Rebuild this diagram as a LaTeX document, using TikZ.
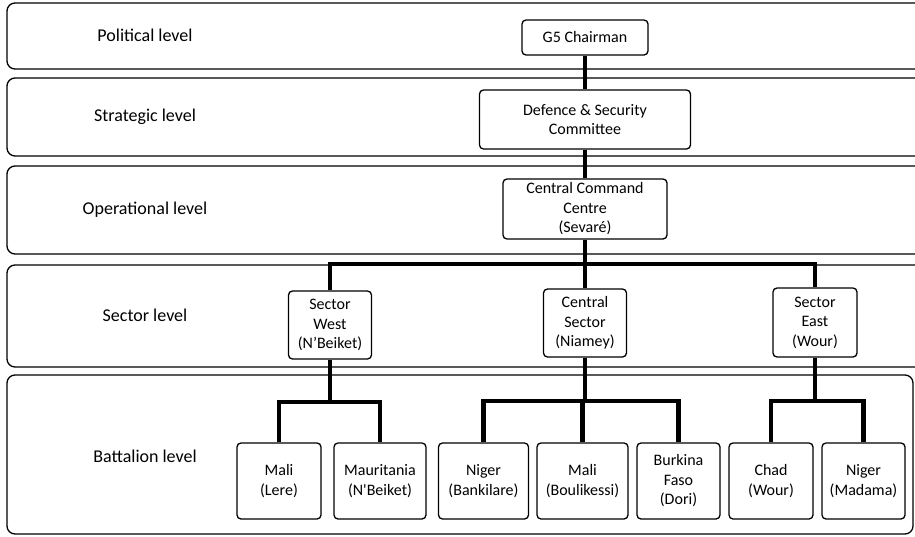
\documentclass[tikz,border=0pt]{standalone}
\usepackage{fontspec}
\setmainfont{Carlito}
\begin{document}
\begin{tikzpicture}[x=1pt,y=-1pt,
  band/.style={draw, line width=1.3pt, rounded corners=8pt},
  lvl/.style={font=\fontsize{18}{22}\selectfont},
  box/.style={draw, fill=white, line width=1.3pt, rounded corners=4pt, align=center,
              font=\fontsize{16}{19.5}\selectfont, inner sep=0pt},
  conn/.style={line width=4.5pt}]
\useasboundingbox (0,0) rectangle (915,536);
\clip (0,0) rectangle (915,536);
% level bands
\draw[band] (7,3) rectangle (940,69);
\draw[band] (7,78) rectangle (940,156);
\draw[band] (7,166) rectangle (940,254);
\draw[band] (7,265) rectangle (940,367);
\draw[band] (7,375) rectangle (913,534);
% level labels
\node[lvl] (lpol) at (145,35) {Political level};
\node[lvl] (lstr) at (145,117) {Strategic level};
\node[lvl] (lope) at (145,210) {Operational level};
\node[lvl] (lsec) at (145,315) {Sector level};
\node[lvl] (lbat) at (145,456) {Battalion level};
% boxes
\node[box, minimum width=126pt, minimum height=35pt] (g5) at (585,37.5) {G5 Chairman};
\node[box, minimum width=211pt, minimum height=59pt] (dsc) at (585,119.5) {Defence \& Security\\Committee};
\node[box, minimum width=164pt, minimum height=60pt] (ccc) at (585,209) {Central Command\\Centre\\(Sevaré)};
\node[box, minimum width=83pt, minimum height=68pt] (sw) at (330,325) {Sector\\West\\(N’Beiket)};
\node[box, minimum width=83pt, minimum height=68pt] (cs) at (585,323) {Central\\Sector\\(Niamey)};
\node[box, minimum width=84pt, minimum height=69pt] (se) at (815,322.5) {Sector\\East\\(Wour)};
\node[box, minimum width=84pt, minimum height=76pt] (b1) at (279,481) {Mali\\(Lere)};
\node[box, minimum width=92pt, minimum height=76pt] (b2) at (380,481) {Mauritania\\(N\textquotesingle Beiket)};
\node[box, minimum width=90pt, minimum height=76pt] (b3) at (483.5,481) {Niger\\(Bankilare)};
\node[box, minimum width=91pt, minimum height=76pt] (b4) at (582.5,481) {Mali\\(Boulikessi)};
\node[box, minimum width=83pt, minimum height=76pt] (b5) at (678.5,481) {Burkina\\Faso\\(Dori)};
\node[box, minimum width=84pt, minimum height=76pt] (b6) at (771,481) {Chad\\(Wour)};
\node[box, minimum width=83pt, minimum height=76pt] (b7) at (863.5,481) {Niger\\(Madama)};
% connectors
\coordinate (j0) at (585,264);
\coordinate (jw) at (330,402);
\coordinate (jc) at (585,401);
\coordinate (je) at (815,401);
\draw[conn] (g5) -- (dsc);
\draw[conn] (dsc) -- (ccc);
\draw[conn] (ccc.south) -- (j0);
\draw[conn] (sw.north) |- (j0) -| (se.north);
\draw[conn] (j0) -- (cs.north);
\draw[conn] (sw.south) -- (jw);
\draw[conn] (b1.north) |- (jw) -| (b2.north);
\draw[conn] (cs.south) -- (jc);
\draw[conn] (b3.north) |- (jc) -| (b5.north);
\draw[conn] (b4.north) -- (b4.north |- jc);
\draw[conn] (se.south) -- (je);
\draw[conn] (b6.north) |- (je) -| (b7.north);
\end{tikzpicture}
\end{document}
